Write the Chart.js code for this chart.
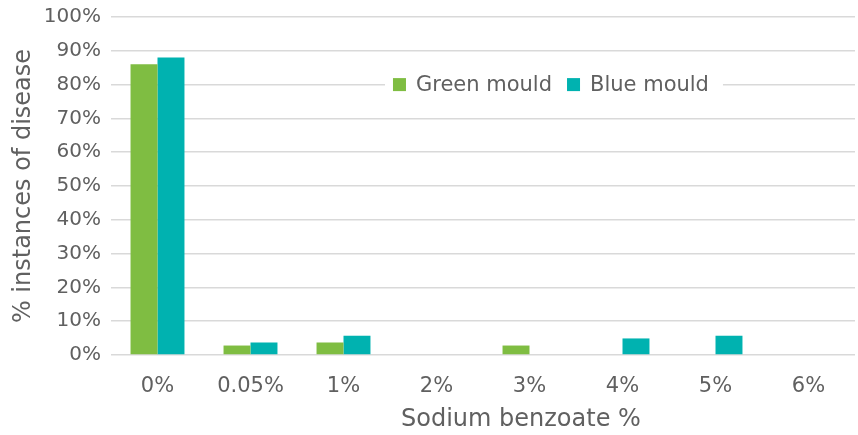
<!DOCTYPE html>
<html>
<head>
<meta charset="utf-8">
<script src="https://cdn.jsdelivr.net/npm/chart.js@4.4.1/dist/chart.umd.min.js"></script>
<style>
  html, body { margin: 0; padding: 0; background: #ffffff; }
  #wrap { width: 858px; height: 435px; position: relative; }
</style>
</head>
<body>
<div id="wrap"><canvas id="c" width="858" height="435"></canvas></div>
<script>
const categories = ['0%', '0.05%', '1%', '2%', '3%', '4%', '5%', '6%'];
const greenMould = [86, 2.8, 3.7, 0, 2.8, 0, 0, 0];
const blueMould = [88, 3.7, 5.7, 0, 0, 4.9, 5.7, 0];
const yTickValues = [0, 10, 20, 30, 40, 50, 60, 70, 80, 90, 100];
const xTitle = 'Sodium benzoate %';
const yTitle = '% instances of disease';

const FONT = "'DejaVu Sans', sans-serif";
const TEXT = '#606060';
const GRID = '#d9d9d9';

const overlays = {
  id: 'overlays',
  afterDraw(chart) {
    const ctx = chart.ctx;
    const area = chart.chartArea;
    const y = chart.scales.y.getPixelForValue(80);
    ctx.save();
    // legend inside plot
    ctx.font = '21px ' + FONT;
    const box = 13, gapBoxText = 10, gapItems = 15;
    const items = chart.data.datasets.map(d => ({ label: d.label, color: d.backgroundColor, w: ctx.measureText(d.label).width }));
    let total = 0;
    items.forEach((it, i) => { total += box + gapBoxText + it.w + (i < items.length - 1 ? gapItems : 0); });
    let x = area.left + (area.right - area.left) * 0.379;
    ctx.fillStyle = '#ffffff';
    ctx.fillRect(x - 8, y - 12, total + 22, 24);
    ctx.textBaseline = 'middle';
    ctx.textAlign = 'left';
    items.forEach(it => {
      ctx.fillStyle = it.color;
      ctx.fillRect(x, y - box / 2, box, box);
      x += box + gapBoxText;
      ctx.fillStyle = TEXT;
      ctx.fillText(it.label, x, y + 1);
      x += it.w + gapItems;
    });
    // x axis title (offset to the right like the original)
    ctx.font = '24px ' + FONT;
    ctx.textAlign = 'center';
    ctx.fillStyle = TEXT;
    ctx.fillText(xTitle, area.left + (area.right - area.left) * 0.551, chart.height - 15);
    ctx.restore();
  }
};

new Chart(document.getElementById('c'), {
  type: 'bar',
  data: {
    labels: categories,
    datasets: [
      { label: 'Green mould', data: greenMould, backgroundColor: '#7fbd42' },
      { label: 'Blue mould', data: blueMould, backgroundColor: '#00b2b0' }
    ]
  },
  options: {
    responsive: false,
    animation: false,
    devicePixelRatio: 1,
    layout: { padding: { top: 0, right: 3, left: 0, bottom: 0 } },
    datasets: { bar: { categoryPercentage: 0.58, barPercentage: 1.0 } },
    plugins: { legend: { display: false }, tooltip: { enabled: false } },
    scales: {
      x: {
        grid: { display: false, drawTicks: false },
        border: { display: false },
        ticks: { color: TEXT, font: { family: FONT, size: 21 }, padding: 19, maxRotation: 0 },
        afterFit(s) { s.height = 80; }
      },
      y: {
        min: 0, max: 100,
        afterBuildTicks(s) { s.ticks = yTickValues.map(v => ({ value: v })); },
        grid: { color: GRID, lineWidth: 1.5, drawTicks: false },
        border: { display: false },
        ticks: { color: TEXT, font: { family: FONT, size: 20 }, padding: 10, callback: v => v + '%' },
        title: { display: true, text: yTitle, color: TEXT, font: { family: FONT, size: 24 }, padding: { top: 9, bottom: 0 } },
        afterFit(s) { s.width = 111; s.paddingTop = 17; }
      }
    }
  },
  plugins: [overlays]
});
</script>
</body>
</html>
